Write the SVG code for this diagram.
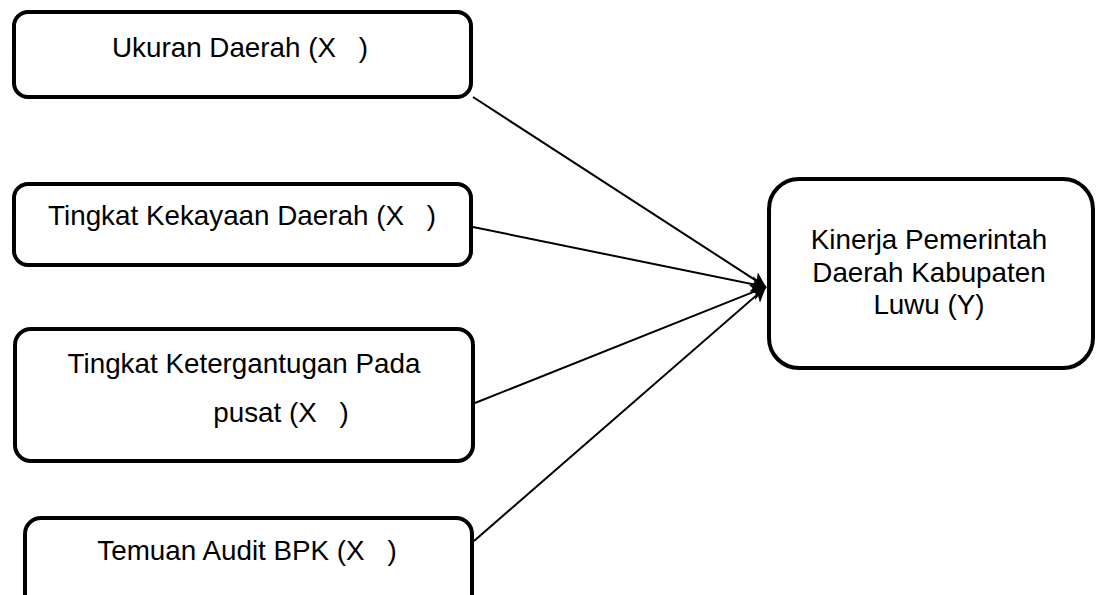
<svg xmlns="http://www.w3.org/2000/svg" width="1097" height="595" viewBox="0 0 1097 595">
  <style>
    .box { fill: #ffffff; stroke: #000000; stroke-width: 4; }
    .lbl { font-family: "Liberation Sans", Arial, sans-serif; font-size: 27.8px; fill: #000000; }
    .mid { text-anchor: middle; }
    .conn { stroke: #000000; stroke-width: 2; fill: none; marker-end: url(#arrow); }
  </style>
  <defs>
    <marker id="arrow" markerUnits="userSpaceOnUse" markerWidth="18" markerHeight="16" refX="15" refY="8" orient="auto">
      <path d="M0,0 L15,8 L0,16 L4,8 Z" fill="#000000"/>
    </marker>
  </defs>
  <rect width="1097" height="595" fill="#ffffff"/>

  <g id="connectors">
    <line class="conn" x1="473" y1="97" x2="766" y2="287"/>
    <line class="conn" x1="473" y1="227" x2="766" y2="287"/>
    <line class="conn" x1="475" y1="403" x2="766" y2="287"/>
    <line class="conn" x1="474" y1="541" x2="766" y2="287"/>
  </g>

  <g id="node-x1">
    <rect class="box" x="14" y="12" width="457" height="85" rx="14"/>
    <text class="lbl mid" x="240" y="57">Ukuran Daerah (X <tspan dx="15">)</tspan></text>
  </g>

  <g id="node-x2">
    <rect class="box" x="14" y="184" width="457" height="81" rx="14"/>
    <text class="lbl mid" x="242" y="225">Tingkat Kekayaan Daerah (X <tspan dx="15">)</tspan></text>
  </g>

  <g id="node-x3">
    <rect class="box" x="15" y="329" width="458" height="132" rx="16"/>
    <text class="lbl mid" x="244" y="373">Tingkat Ketergantugan Pada</text>
    <text class="lbl mid" x="281" y="422">pusat (X <tspan dx="15">)</tspan></text>
  </g>

  <g id="node-x4">
    <rect class="box" x="25" y="518" width="447" height="100" rx="16"/>
    <text class="lbl mid" x="247" y="560">Temuan Audit BPK (X <tspan dx="15">)</tspan></text>
  </g>

  <g id="node-y">
    <rect class="box" x="769" y="179" width="324" height="189" rx="30"/>
    <text class="lbl mid" x="929" y="249">Kinerja Pemerintah</text>
    <text class="lbl mid" x="929" y="282">Daerah Kabupaten</text>
    <text class="lbl mid" x="929" y="314">Luwu (Y)</text>
  </g>
</svg>
